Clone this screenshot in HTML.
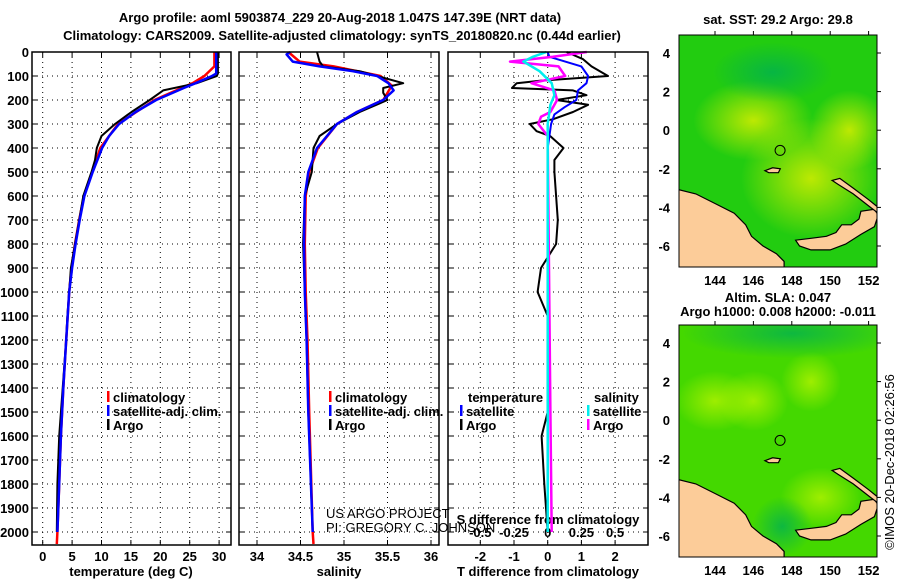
<!DOCTYPE html>
<html><head><meta charset="utf-8"><style>
body{margin:0;background:#fff}
svg{display:block}
text{font-family:"Liberation Sans",sans-serif;font-weight:bold;font-size:13px;fill:#000}
.n{font-weight:normal}
</style></head><body>
<svg id="s" width="900" height="580" viewBox="0 0 900 580" xmlns="http://www.w3.org/2000/svg">
<defs>
<radialGradient id="y1" cx="0.5" cy="0.5" r="0.5"><stop offset="0" stop-color="#d8ee00" stop-opacity="0.85"/><stop offset="1" stop-color="#d8ee00" stop-opacity="0"/></radialGradient>
<radialGradient id="y2" cx="0.5" cy="0.5" r="0.5"><stop offset="0" stop-color="#a8f000" stop-opacity="0.9"/><stop offset="1" stop-color="#a8f000" stop-opacity="0"/></radialGradient>
<radialGradient id="g2" cx="0.5" cy="0.5" r="0.5"><stop offset="0" stop-color="#00b050" stop-opacity="0.8"/><stop offset="1" stop-color="#00b050" stop-opacity="0"/></radialGradient>
<clipPath id="cm1"><rect x="679" y="35" width="198" height="232"/></clipPath>
<clipPath id="cm2"><rect x="679" y="325" width="198" height="232"/></clipPath>
</defs>
<text x="340" y="22" text-anchor="middle">Argo profile: aoml 5903874_229 20-Aug-2018 1.047S 147.39E (NRT data)</text>
<text x="342" y="40" text-anchor="middle">Climatology: CARS2009. Satellite-adjusted climatology: synTS_20180820.nc (0.44d earlier)</text>
<g id="g"></g>
</svg>
<script>
// ---- data (depth in m) ----
const argoTD=[0,90,100,130,160,200,250,300,350,400,450,500,600,700,800,900,1000,1100,1200,1400,1600,1800,2000];
const argoT=[29.8,29.8,29.6,26.2,20.5,18.2,15.1,12.3,10.0,9.2,8.9,8.3,6.9,6.2,5.5,4.8,4.5,4.2,4.0,3.4,2.8,2.5,2.4];
const climTD=[0,60,100,130,200,300,400,500,600,700,800,900,1000,1200,1400,1600,1800,2000,2050];
const climT=[29.2,29.2,27.5,25.5,19.0,12.8,9.8,8.4,7.0,6.2,5.5,4.9,4.5,4.0,3.5,3.1,2.8,2.5,2.4];
const satTD=[0,90,100,130,150,200,250,300,350,400,500,600,700,800,900,1000,1200,1400,1600,1800,2000];
const satT=[29.5,29.5,28.8,26.0,24.0,19.3,15.8,13.0,11.3,10.1,8.5,7.1,6.3,5.6,5.0,4.5,4.0,3.5,3.1,2.8,2.5];
const argoSD=[0,40,60,80,100,130,150,170,200,250,300,350,400,500,600,800,1000,1200,1500,2000];
const argoS=[34.69,34.72,34.76,35.18,35.38,35.68,35.45,35.45,35.5,35.18,34.92,34.72,34.65,34.63,34.55,34.53,34.55,34.57,34.59,34.64];
const satSD=[0,10,40,60,80,100,130,160,200,250,300,400,500,600,800,1000,1200,1500,2000];
const satS=[34.38,34.34,34.41,34.72,35.1,35.38,35.51,35.57,35.45,35.15,34.92,34.69,34.59,34.55,34.54,34.55,34.57,34.59,34.64];
const climSD=[0,40,60,100,140,200,250,300,400,500,600,800,1000,1200,1500,2000,2050];
const climS=[34.36,34.49,34.88,35.42,35.55,35.45,35.15,34.92,34.7,34.6,34.56,34.55,34.56,34.58,34.6,34.64,34.65];
const dTargoD=[0,30,60,100,120,130,150,160,180,200,220,250,280,300,330,350,400,450,500,600,700,800,900,1000,1100,1200,1500,1600,1800,2000];
const dTargo=[0.56,1.05,1.3,1.79,-0.23,-0.92,-1.06,0.75,1.15,0.26,1.2,0.75,0.16,-0.53,-0.33,0.07,0.47,0.2,0.2,0.25,0.3,0.25,-0.2,-0.3,0.0,0.05,0.0,-0.18,-0.1,0.0];
const dTsatD=[0,20,60,100,130,160,200,230,260,300,350,400,2000];
const dTsat=[0,0.05,1.0,1.2,1.15,0.9,0.85,0.5,0.2,0.1,0.05,0,0];
const dSargoD=[0,20,40,60,100,130,160,200,250,270,300,350,1500,2000];
const dSargo=[0.29,0.04,-0.28,0.08,0.13,-0.12,0.05,0.07,0.02,-0.05,-0.07,0,0.02,0.03];
const dSsatD=[0,20,40,80,130,180,220,300,2000];
const dSsat=[-0.01,-0.11,-0.18,-0.06,0.03,0.05,0.02,0,0];
const depthTicks=[0,100,200,300,400,500,600,700,800,900,1000,1100,1200,1300,1400,1500,1600,1700,1800,1900,2000];
const tempTicks=[0,5,10,15,20,25,30];
const salTicks=[34,34.5,35,35.5,36];
const dTTicks=[-2,-1,0,1,2];
const dSTicks=[-0.5,-0.25,0,0.25,0.5];
const lonTicks=[144,146,148,150,152];
const latTicks=[4,2,0,-2,-4,-6];

// ---- scales ----
const TOP=52,BOT=545;
const yD=d=>52+0.24*d;
const xT=t=>42.7+5.88*t;
const xS=s=>257+87*(s-34);
const xdT=t=>547.7+33.7*t;
const xdS=s=>547.7+134.8*s;
const mx=l=>715+19.2*(l-144);
const my1=l=>53+19.3*(4-l);
const my2=l=>343+19.3*(4-l);

const G=document.getElementById('g');
const NS='http://www.w3.org/2000/svg';
function mk(tag,attrs,parent){const e=document.createElementNS(NS,tag);for(const k in attrs)e.setAttribute(k,attrs[k]);(parent||G).appendChild(e);return e;}
function txt(x,y,s,anchor,cls){const e=mk('text',{x:x,y:y,'text-anchor':anchor||'middle'});if(cls)e.setAttribute('class',cls);e.textContent=s;return e;}

const panels=[{x0:32,x1:231,name:'temperature'},{x0:239,x1:439,name:'salinity'},{x0:448,x1:648,name:'difference'}];
panels.forEach(p=>{
  const gp=mk('g',{});
  
  
  depthTicks.forEach(d=>{
    const l=mk('line',{x1:p.x0,x2:p.x1,y1:yD(d),y2:yD(d),stroke:'#000','stroke-width':1,'stroke-dasharray':'1 4'},gp);
    
    
    mk('line',{x1:p.x0,x2:p.x0+5,y1:yD(d),y2:yD(d),stroke:'#000'},gp);
    mk('line',{x1:p.x1-5,x2:p.x1,y1:yD(d),y2:yD(d),stroke:'#000'},gp);
  });
  p.g=gp;
});
function vgrid(p,xs){xs.forEach(x=>{const l=mk('line',{x1:x,x2:x,y1:TOP,y2:BOT,stroke:'#000','stroke-dasharray':'1 4'},p.g);
  
  
  mk('line',{x1:x,x2:x,y1:BOT-5,y2:BOT,stroke:'#000'},p.g);mk('line',{x1:x,x2:x,y1:TOP,y2:TOP+5,stroke:'#000'},p.g);});}
vgrid(panels[0],tempTicks.map(xT));
vgrid(panels[1],salTicks.map(xS));
vgrid(panels[2],dTTicks.map(xdT));

depthTicks.forEach(d=>{const t=txt(29,yD(d)+5,String(d),'end');
  
  });
tempTicks.forEach(v=>{const t=txt(xT(v),561,String(v));
  
  });
salTicks.forEach(v=>{const t=txt(xS(v),561,String(v));
  
  });
dTTicks.forEach(v=>{const t=txt(xdT(v),561,String(v));
  
  });
dSTicks.forEach(v=>{const t=txt(xdS(v),537,String(v));
  
  });
let t;
t=txt(131,576,'temperature (deg C)');
t=txt(339,576,'salinity');
t=txt(548,576,'T difference from climatology');
t=txt(548,524,'S difference from climatology');
t=txt(326,518,'US ARGO PROJECT','start','n');
t=txt(326,532,'PI: GREGORY C. JOHNSON','start','n');

function line(ds,vs,fx,color,w,name){
  const pts=ds.map((d,i)=>fx(vs[i]).toFixed(1)+','+yD(d).toFixed(1)).join(' ');
  const e=mk('polyline',{points:pts,fill:'none',stroke:color,'stroke-width':w,'stroke-linejoin':'round'});
  
  
}
line(climTD,climT,xT,'#f00',2.5,'temperature-climatology-line');
line(argoTD,argoT,xT,'#000',2,'temperature-argo-line');
line(satTD,satT,xT,'#00f',2.5,'temperature-satellite-line');
line(climSD,climS,xS,'#f00',2.5,'salinity-climatology-line');
line(argoSD,argoS,xS,'#000',2,'salinity-argo-line');
line(satSD,satS,xS,'#00f',2.5,'salinity-satellite-line');
line(dTargoD,dTargo,xdT,'#000',2,'t-difference-argo-line');
line(dTsatD,dTsat,xdT,'#00f',2,'t-difference-satellite-line');
line(dSargoD,dSargo,xdS,'#f0f',2.5,'s-difference-argo-line');
line(dSsatD,dSsat,xdS,'#0ee',2.5,'s-difference-satellite-line');

panels.forEach(p=>{const r=mk('rect',{x:p.x0,y:TOP,width:p.x1-p.x0,height:BOT-TOP,fill:'none',stroke:'#000','stroke-width':1.5});
  
  });

function leg(x,y,color,label,name){
  const g=mk('g',{});
  
  
  mk('rect',{x:x,y:y-11,width:2.5,height:11,fill:color},g);
  const tt=mk('text',{x:x+6,y:y},g);tt.textContent=label;
}
leg(107,402,'#f00','climatology','legend-entry-climatology');
leg(107,416,'#00f','satellite-adj. clim.','legend-entry-satellite-adj');
leg(107,430,'#000','Argo','legend-entry-argo');
leg(329,402,'#f00','climatology','legend-entry-salinity-climatology');
leg(329,416,'#00f','satellite-adj. clim.','legend-entry-salinity-satellite-adj');
leg(329,430,'#000','Argo','legend-entry-salinity-argo');
t=txt(468,402,'temperature','start');
t=txt(594,402,'salinity','start');
leg(460,416,'#00f','satellite','legend-entry-t-satellite');
leg(460,430,'#000','Argo','legend-entry-t-argo');
leg(587,416,'#0ee','satellite','legend-entry-s-satellite');
leg(587,430,'#f0f','Argo','legend-entry-s-argo');

// ---- maps ----
const mainland=[[142,-3.05],[143,-3.3],[144,-3.8],[145,-4.3],[145.6,-4.9],[145.9,-5.5],[146.5,-6.0],[147.2,-6.4],[147.6,-6.8],[147.6,-7.2],[142,-7.2]];
const newBritain=[[148.2,-5.7],[149,-5.6],[149.8,-5.5],[150.3,-5.3],[150.6,-4.9],[151.1,-4.9],[151.5,-4.6],[151.6,-4.2],[152.3,-4.1],[152.5,-4.4],[152.3,-5.0],[151.6,-5.4],[150.8,-5.9],[150,-6.2],[149,-6.2],[148.4,-6.0]];
const newIreland=[[150.1,-2.6],[150.5,-2.5],[151.2,-3.0],[152,-3.6],[152.5,-4.0],[152.5,-4.3],[152.1,-4.0],[151.2,-3.3],[150.4,-2.8]];
const manus=[[146.6,-2.1],[147,-1.95],[147.4,-2.0],[147.3,-2.2],[146.8,-2.2]];
function drawMap(my,clip,y0,name,bg,blobs){
  const g=mk('g',{'clip-path':'url(#'+clip+')'});
  
  
  mk('rect',{x:679,y:y0,width:198,height:232,fill:bg},g);
  blobs.forEach(b=>mk('ellipse',{cx:mx(b[0]),cy:my(b[1]),rx:b[2],ry:b[3],fill:'url(#'+b[4]+')'},g));
  [mainland,newBritain,newIreland,manus].forEach(poly=>{
    const e=mk('polygon',{points:poly.map(q=>mx(q[0]).toFixed(1)+','+my(q[1]).toFixed(1)).join(' '),fill:'#fccc99',stroke:'#000','stroke-width':1.2},g);
    
    
  });
  const c=mk('circle',{cx:mx(147.39),cy:my(-1.047),r:5,fill:'none',stroke:'#000','stroke-width':1});
  
  
  const r=mk('rect',{x:679,y:y0,width:198,height:232,fill:'none',stroke:'#000','stroke-width':1});
  
  
  latTicks.forEach(v=>{const tl=txt(670,my(v)+5,String(v),'end');
    
    
    mk('line',{x1:877,x2:881,y1:my(v),y2:my(v),stroke:'#000'});});
  lonTicks.forEach(v=>{const tl=txt(mx(v),y0+250,String(v));
    
    
    mk('line',{x1:mx(v),x2:mx(v),y1:y0-4,y2:y0,stroke:'#000'});});
}
drawMap(my1,'cm1',35,'sst-map','#22cc10',[[149,-2.5,70,60,'y1'],[146,0.5,60,40,'y1'],[151,0,40,40,'y1'],[147,3,60,30,'g2']]);
drawMap(my2,'cm2',325,'sla-map','#44d800',[[144,1,40,30,'y2'],[146,1,35,30,'y2'],[149,2,30,30,'y2'],[149.5,-4,40,30,'y2'],[148,4.5,110,25,'g2'],[147.5,-5.5,30,30,'g2']]);
t=txt(778,24,'sat. SST: 29.2 Argo: 29.8');
t=txt(778,302,'Altim. SLA: 0.047');
t=txt(778,316,'Argo h1000: 0.008 h2000: -0.011');
t=txt(0,0,'©IMOS 20-Dec-2018 02:26:56','middle','n');
t.setAttribute('transform','translate(894,462) rotate(-90)');

</script>
</body></html>
